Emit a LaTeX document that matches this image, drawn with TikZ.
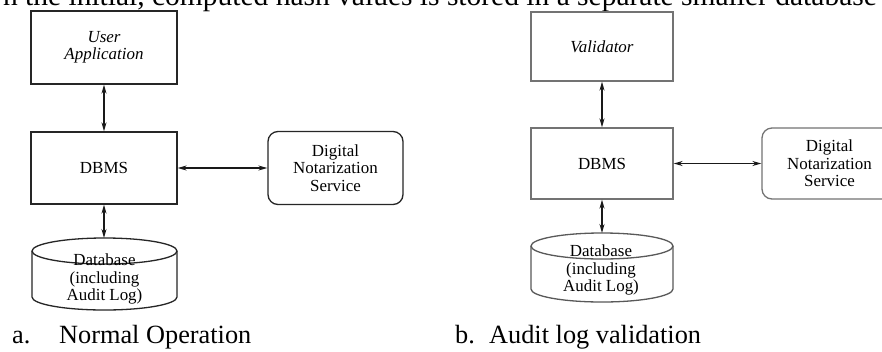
\documentclass[tikz,border=0pt]{standalone}
\usepackage{fontspec}
\setmainfont{Liberation Serif}
\usetikzlibrary{arrows.meta}
\begin{document}
\begin{tikzpicture}[x=1bp,y=-1bp,
  lbl/.style={font=\fontsize{17}{17.5}\selectfont, align=center, inner sep=0pt},
  boxa/.style={draw=black!85, line width=1.3bp, lbl},
  boxb/.style={draw=black!55, line width=1.3bp, lbl},
  captext/.style={font=\fontsize{26.4}{30}\selectfont, inner sep=0pt, anchor=base west},
  arr/.style={black!90, line width=1.2bp,
    {Stealth[length=9bp,width=5bp,open]}-{Stealth[length=9bp,width=5bp,open]}},
  cyla/.style={draw=black!85, line width=1.3bp},
  cylb/.style={draw=black!65, line width=1.3bp}]
\useasboundingbox (0,0) rectangle (882,351);
\clip (0,0) rectangle (882,351);
\fill[white] (0,0) rectangle (882,351);

% cropped text line at top
\node[font=\fontsize{29.6}{33}\selectfont, inner sep=0pt, anchor=base east] (toptext) at (877,5)
  {n the initial, computed hash values is stored in a separate smaller database};

% ---------- panel a ----------
\node[boxa, minimum width=146bp, minimum height=73bp] (ua) at (104,47.5)
  {\itshape User\\\itshape Application};
\node[boxa, minimum width=146bp, minimum height=72bp] (dbms) at (104,168) {DBMS};
\node[boxa, rounded corners=10bp, minimum width=135bp, minimum height=73bp] (dns) at (335.5,168)
  {Digital\\Notarization\\Service};
% cylinder a
\draw[cyla] (104.5,251) ellipse [x radius=72.5, y radius=13];
\draw[cyla] (32,251) -- (32,297) arc[start angle=180, end angle=0, x radius=72.5, y radius=13] -- (177,251);
\coordinate (dbtop) at (104,238);
\node[lbl, font=\fontsize{17}{18}\selectfont] (db) at (104.5,279) {Database\\(including\\Audit Log)};

\draw[arr] (ua) -- (dbms);
\draw[arr] (dbms) -- (dns);
\draw[arr] (dbms) -- (dbtop);

\node[captext] (capa1) at (12,343) {a.};
\node[captext] (capa2) at (59,343) {Normal Operation};

% ---------- panel b ----------
\node[boxb, minimum width=142bp, minimum height=69bp] (val) at (602,46.5) {\itshape Validator};
\node[boxb, minimum width=142bp, minimum height=71bp] (dbms2) at (602,163.5) {DBMS};
\node[boxb, rounded corners=10bp, minimum width=135bp, minimum height=71bp] (dns2) at (829.5,163.5)
  {Digital\\Notarization\\Service};
% cylinder b
\draw[cylb] (602,246) ellipse [x radius=71, y radius=13];
\draw[cylb] (531,246) -- (531,289) arc[start angle=180, end angle=0, x radius=71, y radius=13] -- (673,246);
\coordinate (dbtop2) at (602,233);
\node[lbl, font=\fontsize{17}{18}\selectfont] (db2) at (601,270) {Database\\(including\\Audit Log)};

\draw[arr] (val) -- (dbms2);
\draw[arr] (dbms2) -- (dns2);
\draw[arr] (dbms2) -- (dbtop2);

\node[captext] (capb1) at (455,343) {b.};
\node[captext] (capb2) at (489,343) {Audit log validation};
\end{tikzpicture}
\end{document}
